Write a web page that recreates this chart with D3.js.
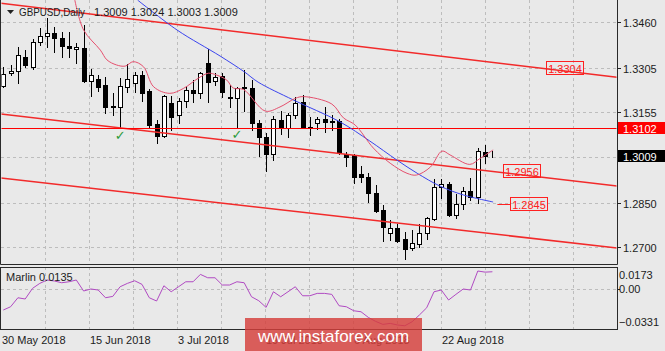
<!DOCTYPE html>
<html><head><meta charset="utf-8">
<script src="https://cdn.jsdelivr.net/npm/d3@7"></script>
<style>
html,body{margin:0;padding:0;background:#e9e9e9;}
svg{display:block;font-family:"Liberation Sans",Arial,sans-serif;}
</style></head><body>
<svg id="c" width="665" height="351"></svg>
<script>
// ---------- data ----------
const symbolTitle = "GBPUSD,Daily";
const dateLabels = ["30 May 2018","15 Jun 2018","3 Jul 2018","19 Jul 2018","6 Aug 2018","22 Aug 2018"];
const dateBars = [0,12,24,36,48,60];
const openP = [1.3244,1.3288,1.3296,1.3341,1.3309,1.3393,1.3413,1.3424,1.3405,1.3380,1.3370,1.3373,1.3262,1.3266,1.3247,1.3176,1.3172,1.3241,1.3255,1.3281,1.3227,1.3114,1.3075,1.3185,1.3146,1.3194,1.3230,1.3221,1.3320,1.3262,1.3278,1.3208,1.3202,1.3236,1.3236,1.3120,1.3071,1.3014,1.3129,1.3101,1.3146,1.3191,1.3106,1.3118,1.3132,1.3127,1.3127,1.3014,1.3011,1.2946,1.2937,1.2881,1.2825,1.2748,1.2765,1.2726,1.2698,1.2709,1.2746,1.2794,1.2902,1.2912,1.2808,1.2845,1.2889,1.2870,1.3022,1.3009];
const highP = [1.3308,1.3315,1.3377,1.3365,1.3403,1.3439,1.3472,1.3444,1.3425,1.3425,1.3390,1.3450,1.3300,1.3281,1.3275,1.3221,1.3272,1.3317,1.3292,1.3296,1.3233,1.3129,1.3213,1.3211,1.3204,1.3245,1.3264,1.3292,1.3368,1.3287,1.3287,1.3247,1.3239,1.3298,1.3264,1.3129,1.3084,1.3143,1.3160,1.3154,1.3208,1.3213,1.3140,1.3140,1.3172,1.3146,1.3131,1.3022,1.3015,1.2974,1.2949,1.2909,1.2842,1.2791,1.2778,1.2752,1.2757,1.2778,1.2802,1.2929,1.2929,1.2921,1.2879,1.2904,1.2932,1.3033,1.3045,1.3024];
const lowP = [1.3240,1.3281,1.3255,1.3309,1.3300,1.3382,1.3377,1.3358,1.3343,1.3343,1.3320,1.3258,1.3211,1.3227,1.3152,1.3146,1.3101,1.3223,1.3223,1.3193,1.3106,1.3050,1.3071,1.3095,1.3118,1.3172,1.3191,1.3202,1.3191,1.3247,1.3208,1.3172,1.3104,1.3158,1.3095,1.3007,1.2958,1.2994,1.3082,1.3073,1.3135,1.3102,1.3078,1.3098,1.3089,1.3095,1.3014,1.2974,1.2917,1.2921,1.2853,1.2819,1.2720,1.2724,1.2718,1.2658,1.2690,1.2699,1.2726,1.2790,1.2867,1.2805,1.2797,1.2828,1.2859,1.2848,1.2983,1.3003];
const closeP = [1.3284,1.3296,1.3349,1.3315,1.3391,1.3414,1.3422,1.3407,1.3380,1.3371,1.3376,1.3261,1.3281,1.3241,1.3172,1.3172,1.3244,1.3266,1.3281,1.3221,1.3112,1.3075,1.3211,1.3140,1.3193,1.3230,1.3221,1.3287,1.3258,1.3275,1.3225,1.3202,1.3236,1.3240,1.3118,1.3071,1.3014,1.3131,1.3101,1.3146,1.3187,1.3106,1.3103,1.3131,1.3121,1.3121,1.3017,1.3003,1.2937,1.2937,1.2881,1.2823,1.2766,1.2765,1.2721,1.2693,1.2712,1.2746,1.2797,1.2902,1.2912,1.2808,1.2845,1.2890,1.2870,1.3025,1.3007,1.3009];

// moving averages: bar position / value
const redMaBars = [9.8,11.0,13.3,14.2,15.5,16.7,17.8,19.2,20.6,22.8,24.7,26.7,28.1,29.2,30.6,31.5,32.9,35.9,37.9,40.0,41.1,45.0,46.6,48.2,50.7,53.0,55.3,56.6,58.5,60.1,61.2,63.9,65.3,67.1];
const redMaVals = [1.3534,1.3433,1.3365,1.3332,1.3315,1.3311,1.3326,1.3309,1.3241,1.3219,1.3236,1.3270,1.3287,1.3281,1.3264,1.3237,1.3232,1.3159,1.3173,1.3202,1.3208,1.3183,1.3136,1.3112,1.3034,1.2983,1.2949,1.2943,1.2970,1.3024,1.3011,1.2979,1.2999,1.3028];
const blueMaBars = [18.4,23.8,29.7,33.0,34.9,39.7,46.1,50.2,53.9,56.7,59.8,63.0,67.1];
const blueMaVals = [1.3534,1.3433,1.3345,1.3292,1.3257,1.3197,1.3123,1.3058,1.2994,1.2949,1.2906,1.2876,1.2852];

// channel trend lines: two anchor points each (bar, price)
const channelBars = [0, 80];
const channelUpper = [1.3522, 1.3285];
const channelMiddle = [1.3148, 1.2918];
const channelLower = [1.2932, 1.2708];
const levelLine = 1.3102;

// price labels
const boxLabels = [1.3304, 1.2956, 1.2845];
const boxLabelBars = [74.3, 68.4, 69.4];
const checkBars = [16, 32];

// axis ticks
const priceTicks = [1.3460, 1.3305, 1.3155, 1.2850, 1.2700];
const priceGrid = [1.3460, 1.3305, 1.3155, 1.3005, 1.2850, 1.2700];
const marlinTicks = [0.0173, 0.00, -0.0331];

const marlin = [-0.0171,-0.0145,-0.0073,-0.0083,0.0002,0.0042,0.0069,0.0061,0.0047,0.0055,0.0069,-0.0019,-0.0003,-0.0011,-0.0073,-0.0062,0.0015,0.0042,0.0063,0.0034,-0.0073,-0.0099,0.0023,-0.0025,0.0015,0.0055,0.0055,0.0114,0.0087,0.0087,0.0029,0.0029,0.0055,0.0047,-0.0065,-0.0097,-0.0150,-0.0025,-0.0065,-0.0025,0.0015,-0.0057,-0.0057,-0.0038,-0.0038,-0.0046,-0.0137,-0.0145,-0.0177,-0.0185,-0.0230,-0.0262,-0.0286,-0.0278,-0.0291,-0.0297,-0.0265,-0.0211,-0.0153,-0.0025,-0.0011,-0.0091,-0.0046,-0.0003,-0.0011,0.0141,0.0132,0.0135];

// ---------- layout ----------
const svg = d3.select("#c");
const L = 1, R = 617, mainTop = 0, mainBot = 265, mTop = 267, mBot = 330;
const xScale = d3.scaleLinear().domain([0, 67]).range([3.3, 492.4]);
const gridScale = d3.scaleLinear().domain([0, 78]).range([1, 573]);
const yScale = d3.scaleLinear().domain([1.2700, 1.3460]).range([247, 22]);
const mScale = d3.scaleLinear().domain([-0.0331, 0.0173]).range([mBot, mTop]);
const fmt = d3.format(".4f");
const TXT = "#1c1c1c";

const defs = svg.append("defs");
defs.append("clipPath").attr("id","clipMain").append("rect").attr("x",L+0.5).attr("y",mainTop).attr("width",R-L-1).attr("height",mainBot-mainTop);
defs.append("clipPath").attr("id","clipM").append("rect").attr("x",L+0.5).attr("y",mTop).attr("width",R-L-1).attr("height",mBot-mTop);

// grid
const grid = svg.append("g").attr("stroke","#bdbdbd").attr("stroke-dasharray","3,3").attr("stroke-width",1);
d3.range(6, 79, 6).forEach(b => {
  const gx = Math.round(gridScale(b)) + 0.5;
  grid.append("line").attr("x1",gx).attr("x2",gx).attr("y1",mainTop).attr("y2",mainBot);
  grid.append("line").attr("x1",gx).attr("x2",gx).attr("y1",mTop).attr("y2",mBot);
});
priceGrid.forEach(p => {
  const gy = Math.round(yScale(p)) + 0.5;
  grid.append("line").attr("x1",L).attr("x2",R).attr("y1",gy).attr("y2",gy);
});
grid.append("line").attr("x1",L).attr("x2",R).attr("y1",Math.round(mScale(0))+0.5).attr("y2",Math.round(mScale(0))+0.5);

// candles
const cg = svg.append("g").attr("clip-path","url(#clipMain)");
openP.forEach((o, i) => {
  const cx = Math.round(xScale(i));
  cg.append("line").attr("x1",cx+0.5).attr("x2",cx+0.5)
    .attr("y1",Math.round(yScale(highP[i]))).attr("y2",Math.round(yScale(lowP[i]))+1)
    .attr("stroke","#000").attr("stroke-width",1);
  const yo = Math.round(yScale(o)), yc = Math.round(yScale(closeP[i]));
  const bull = closeP[i] >= o;
  cg.append("rect").attr("x",cx-1.5).attr("y",Math.min(yo,yc)+0.5)
    .attr("width",4).attr("height",Math.abs(yo-yc))
    .attr("fill",bull ? "#fff" : "#000").attr("stroke","#000").attr("stroke-width",1);
});

// lines
const lg = svg.append("g").attr("clip-path","url(#clipMain)");
function ray(vals, color, w) {
  const x0 = xScale(channelBars[0]), x1 = xScale(channelBars[1]);
  const y0 = yScale(vals[0]), y1 = yScale(vals[1]);
  const k = (y1 - y0) / (x1 - x0);
  lg.append("line").attr("x1",L).attr("y1",y0 + k*(L-x0)).attr("x2",R).attr("y2",y0 + k*(R-x0))
    .attr("stroke",color).attr("stroke-width",w);
}
ray(channelUpper, "#f22a2a", 1.5);
ray(channelMiddle, "#f22a2a", 1.5);
ray(channelLower, "#f22a2a", 1.5);
lg.append("line").attr("x1",L).attr("x2",R).attr("y1",Math.round(yScale(levelLine))+0.5).attr("y2",Math.round(yScale(levelLine))+0.5)
  .attr("stroke","#ff0000").attr("stroke-width",1);

const lineGen = d3.line().x(d => xScale(d[0])).y(d => yScale(d[1])).curve(d3.curveCatmullRom.alpha(0.5));
lg.append("path").attr("d", lineGen(blueMaBars.map((b,i)=>[b, blueMaVals[i]])))
  .attr("fill","none").attr("stroke","#3a44ee").attr("stroke-width",1);
lg.append("path").attr("d", lineGen(redMaBars.map((b,i)=>[b, redMaVals[i]])))
  .attr("fill","none").attr("stroke","#e5506e").attr("stroke-width",1);

// checks
checkBars.forEach(b => {
  svg.append("text").attr("x",xScale(b)).attr("y",yScale(lowP[b])+12)
    .attr("text-anchor","middle").attr("font-size",13).attr("font-family","DejaVu Sans")
    .attr("fill","#2a9a3a").text("\u2713");
});

// boxed price labels
boxLabels.forEach((p, i) => {
  const bx = Math.round(xScale(boxLabelBars[i])) + 0.5;
  const by = Math.round(yScale(p));
  if (i === 2) {
    svg.append("line").attr("x1",xScale(67)+5).attr("x2",bx).attr("y1",by+0.5).attr("y2",by+0.5)
      .attr("stroke","#ff2020").attr("stroke-width",1);
  }
  svg.append("rect").attr("x",bx).attr("y",by-6.5).attr("width",37).attr("height",13)
    .attr("fill","none").attr("stroke","#ff2020").attr("stroke-width",1);
  svg.append("text").attr("x",bx+18.5).attr("y",by+4.5).attr("text-anchor","middle")
    .attr("font-size",11).attr("fill","#ff2020").text(fmt(p));
});

// frames
const fr = svg.append("g").attr("stroke","#2a2a2a").attr("stroke-width",1).attr("fill","none");
fr.append("path").attr("d",`M${L-0.5},0 V${mainBot-0.5} H${R+0.5} V0`);
fr.append("rect").attr("x",L-0.5).attr("y",mTop+0.5).attr("width",R-L+1).attr("height",mBot-mTop-1);

// price axis
priceTicks.forEach(p => {
  const ty = Math.round(yScale(p)) + 0.5;
  svg.append("line").attr("x1",R).attr("x2",R+4).attr("y1",ty).attr("y2",ty).attr("stroke","#222");
  svg.append("text").attr("x",R+6).attr("y",ty+4).attr("font-size",11).attr("fill",TXT).text(fmt(p));
});
// level label
{
  const ty = Math.round(yScale(levelLine));
  svg.append("rect").attr("x",R+1).attr("y",ty-6).attr("width",48).attr("height",12).attr("fill","#ff0000");
  svg.append("text").attr("x",R+6).attr("y",ty+4.5).attr("font-size",11).attr("fill","#fff").text(fmt(levelLine));
}
// current price label
{
  const last = closeP[closeP.length-1];
  const ty = Math.round(yScale(last));
  svg.append("rect").attr("x",R+1).attr("y",ty-6).attr("width",48).attr("height",12).attr("fill","#000");
  svg.append("text").attr("x",R+6).attr("y",ty+4.5).attr("font-size",11).attr("fill","#fff").text(fmt(last));
}

// marlin
svg.append("path").attr("clip-path","url(#clipM)")
  .attr("d", d3.line().x((d,i)=>xScale(i)).y(d=>mScale(d))(marlin))
  .attr("fill","none").attr("stroke","#b04ac2").attr("stroke-width",1);
const mFmt = v => v === 0 ? "0.00" : fmt(v);
marlinTicks.forEach((v, i) => {
  const ty = mScale(v) + (i === 0 ? 8 : (i === 2 ? -8 : 0));
  if (i === 1) svg.append("line").attr("x1",R).attr("x2",R+3).attr("y1",Math.round(ty)+0.5).attr("y2",Math.round(ty)+0.5).attr("stroke","#222");
  svg.append("text").attr("x",R+2).attr("y",ty+4).attr("font-size",11).attr("fill",TXT).text(mFmt(v));
});
svg.append("text").attr("x",6).attr("y",281).attr("font-size",11).attr("fill",TXT)
  .text("Marlin " + fmt(marlin[marlin.length-1]));

// date axis
dateLabels.forEach((d, i) => {
  svg.append("text").attr("x",gridScale(dateBars[i])+1).attr("y",344).attr("font-size",11).attr("fill",TXT).text(d);
});

// title
svg.append("path").attr("d","M7,10 L14,10 L10.5,14 Z").attr("fill","#222");
svg.append("text").attr("x",19).attr("y",16).attr("font-size",11).attr("fill",TXT)
  .attr("textLength",66).attr("lengthAdjust","spacingAndGlyphs").text(symbolTitle);
const li = closeP.length-1;
svg.append("text").attr("x",94).attr("y",16).attr("font-size",11).attr("fill",TXT)
  .text([openP[li], highP[li], lowP[li], closeP[li]].map(fmt).join(" "));

// watermark
svg.append("rect").attr("x",245).attr("y",318).attr("width",177).attr("height",33)
  .attr("fill","rgb(214,62,58)").attr("opacity",0.82);
svg.append("text").attr("x",333.5).attr("y",342).attr("text-anchor","middle")
  .attr("font-size",17).attr("fill","#fff").text("www.instaforex.com");
</script>
</body></html>
